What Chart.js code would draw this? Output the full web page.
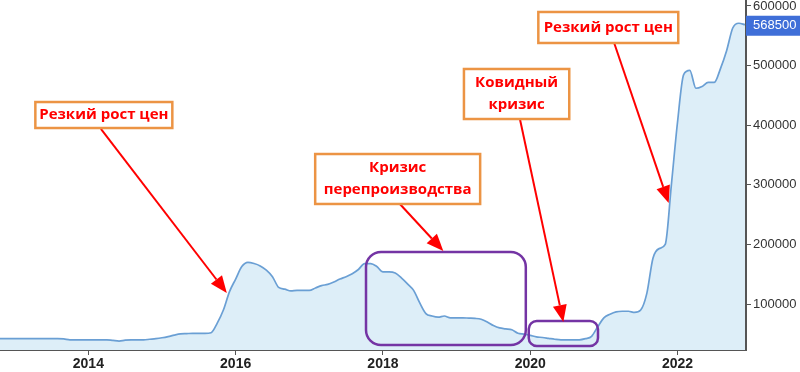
<!DOCTYPE html>
<html>
<head>
<meta charset="utf-8">
<script src="https://cdn.jsdelivr.net/npm/chart.js@4/dist/chart.umd.min.js"></script>
<style>
  html, body { margin: 0; padding: 0; background: #fff; }
  #wrap { position: relative; width: 800px; height: 372px; }
</style>
</head>
<body>
<div id="wrap"><canvas id="price-chart"></canvas></div>
<script>
// Monthly prices, first value is October 2012
const FIRST_YEAR = 2012;
const FIRST_MONTH = 10;
const PRICES_2012 = [42000, 42000, 42000];
const PRICES_2013 = [42000, 42000, 42000, 42000, 42000, 42000, 42000, 42000, 41500, 40000, 40000, 40000];
const PRICES_2014 = [40000, 40000, 40000, 40000, 39000, 38000, 39500, 40000, 40000, 40000, 41000, 42000];
const PRICES_2015 = [43500, 45500, 48000, 50000, 50500, 51000, 51000, 51000, 52000, 68000, 90000, 121000];
const PRICES_2016 = [142000, 163000, 170000, 168000, 164000, 157000, 146000, 128000, 125000, 122000, 123000, 123000];
const PRICES_2017 = [123000, 127000, 131000, 133000, 137000, 142000, 146000, 151000, 158000, 168000, 168000, 163000];
const PRICES_2018 = [154000, 154000, 152000, 144000, 134000, 123000, 102000, 84000, 80000, 78000, 80000, 77000];
const PRICES_2019 = [77000, 77000, 76500, 76000, 74500, 70000, 64000, 60000, 58500, 57000, 51000, 49500];
const PRICES_2020 = [47500, 45000, 44000, 42500, 41000, 40000, 40000, 40000, 40000, 42000, 46000, 62000];
const PRICES_2021 = [77000, 83000, 87000, 88000, 88000, 86000, 90000, 118000, 177000, 193000, 200000, 300000];
const PRICES_2022 = [405000, 485000, 492000, 462000, 465000, 472000, 472000, 495000, 525000, 563000, 571000, 568500];

const YEAR_TICKS = [2014, 2016, 2018, 2020, 2022];
const VALUE_TICKS = [100000, 200000, 300000, 400000, 500000, 600000];
const LAST_LABEL = '568500';

// Annotations, positioned in data units (year, price)
const NOTE_TEXTS = [['Резкий рост цен'], ['Кризис', 'перепроизводства'], ['Ковидный', 'кризис'], ['Резкий рост цен']];
const NOTE_BOXES = [[2013.28, 438900, 2015.14, 395300], [2017.08, 351700, 2019.32, 267900],
                    [2019.10, 494300, 2020.53, 410400], [2020.11, 589900, 2022.01, 537900]];
const NOTE_ARROWS = [[2014.17, 393700, 2015.88, 118600], [2018.23, 267900, 2018.82, 189100],
                     [2019.86, 410400, 2020.45, 70000], [2021.14, 537900, 2021.88, 269600]];
const ZONES = [[2017.77, 187400, 2019.94, 31400, 15], [2019.98, 71700, 2020.92, 29800, 8]];

const allPrices = [].concat(PRICES_2012, PRICES_2013, PRICES_2014, PRICES_2015, PRICES_2016,
  PRICES_2017, PRICES_2018, PRICES_2019, PRICES_2020, PRICES_2021, PRICES_2022);
const points = allPrices.map((v, i) => ({ x: FIRST_YEAR + (FIRST_MONTH - 1 + i) / 12, y: v }));

// Draws the boxes, arrows and the last-value marker on top of the series
const notesPlugin = {
  id: 'notes',
  afterDraw(chart) {
    const { ctx, scales: { x, y } } = chart;
    const px = v => x.getPixelForValue(v);
    const py = v => y.getPixelForValue(v);
    ctx.save();

    ZONES.forEach(([x1, y1, x2, y2, r]) => {
      ctx.beginPath();
      ctx.roundRect(px(x1), py(y1), px(x2) - px(x1), py(y2) - py(y1), r);
      ctx.strokeStyle = '#7434a4';
      ctx.lineWidth = 2.5;
      ctx.stroke();
    });

    NOTE_ARROWS.forEach(([x1, y1, x2, y2]) => {
      const ax = px(x1), ay = py(y1), bx = px(x2), by = py(y2);
      const ang = Math.atan2(by - ay, bx - ax);
      const head = 17, half = 7;
      const hx = bx - head * Math.cos(ang), hy = by - head * Math.sin(ang);
      ctx.beginPath();
      ctx.moveTo(ax, ay);
      ctx.lineTo(hx, hy);
      ctx.strokeStyle = '#ff0000';
      ctx.lineWidth = 2;
      ctx.stroke();
      ctx.beginPath();
      ctx.moveTo(bx, by);
      ctx.lineTo(hx + half * Math.sin(ang), hy - half * Math.cos(ang));
      ctx.lineTo(hx - half * Math.sin(ang), hy + half * Math.cos(ang));
      ctx.closePath();
      ctx.fillStyle = '#ff0000';
      ctx.fill();
    });

    NOTE_BOXES.forEach(([x1, y1, x2, y2], i) => {
      const l = px(x1), t = py(y1), w = px(x2) - l, h = py(y2) - t;
      ctx.fillStyle = '#fff';
      ctx.fillRect(l, t, w, h);
      ctx.strokeStyle = '#ec9444';
      ctx.lineWidth = 2.5;
      ctx.strokeRect(l, t, w, h);
      const lines = NOTE_TEXTS[i];
      ctx.fillStyle = '#ff0000';
      ctx.font = 'bold 15px "Open Sans"';
      ctx.textAlign = 'center';
      ctx.textBaseline = 'middle';
      const step = 22;
      const y0 = t + h / 2 - (lines.length - 1) * step / 2;
      lines.forEach((s, k) => ctx.fillText(s, l + w / 2, y0 + k * step));
    });

    // Last value tag on the right axis
    const last = allPrices[allPrices.length - 1];
    const ly = py(last) + 1;
    ctx.fillStyle = '#3f6fd8';
    ctx.fillRect(x.right, ly - 10, chart.width - x.right, 20);
    ctx.fillStyle = '#fff';
    ctx.font = '13px "Liberation Sans"';
    ctx.textAlign = 'left';
    ctx.textBaseline = 'middle';
    ctx.fillText(LAST_LABEL, x.right + 7, ly);
    ctx.restore();
  }
};

new Chart(document.getElementById('price-chart'), {
  type: 'line',
  data: {
    datasets: [{
      data: points,
      borderColor: '#6a9fd4',
      backgroundColor: '#ddeef8',
      borderWidth: 1.7,
      fill: 'start',
      pointRadius: 0,
      cubicInterpolationMode: 'monotone',
    }],
  },
  options: {
    responsive: true,
    maintainAspectRatio: false,
    animation: false,
    layout: { padding: 0 },
    plugins: { legend: { display: false }, tooltip: { enabled: false } },
    scales: {
      x: {
        type: 'linear',
        min: 2012.8,
        max: 2022.93,
        afterBuildTicks: s => { s.ticks = YEAR_TICKS.map(v => ({ value: v })); },
        afterFit: s => { s.height = 22; s.paddingLeft = 0; s.paddingRight = 0; },
        grid: { drawOnChartArea: false, tickLength: 5, color: '#555' },
        border: { color: '#555', width: 2 },
        ticks: {
          callback: v => String(v),
          color: '#222',
          padding: 1,
          maxRotation: 0,
          font: { family: '"Liberation Sans"', size: 14, weight: 'bold' },
        },
      },
      y: {
        position: 'right',
        min: 23000,
        max: 610000,
        afterBuildTicks: s => { s.ticks = VALUE_TICKS.map(v => ({ value: v })); },
        afterFit: s => { s.width = 54; s.paddingTop = 0; s.paddingBottom = 0; },
        grid: { drawOnChartArea: false, tickLength: 5, color: '#555' },
        border: { color: '#555', width: 2 },
        ticks: {
          callback: v => String(v),
          color: '#333',
          padding: 2,
          font: { family: '"Liberation Sans"', size: 13 },
        },
      },
    },
  },
  plugins: [notesPlugin],
});
</script>
</body>
</html>
